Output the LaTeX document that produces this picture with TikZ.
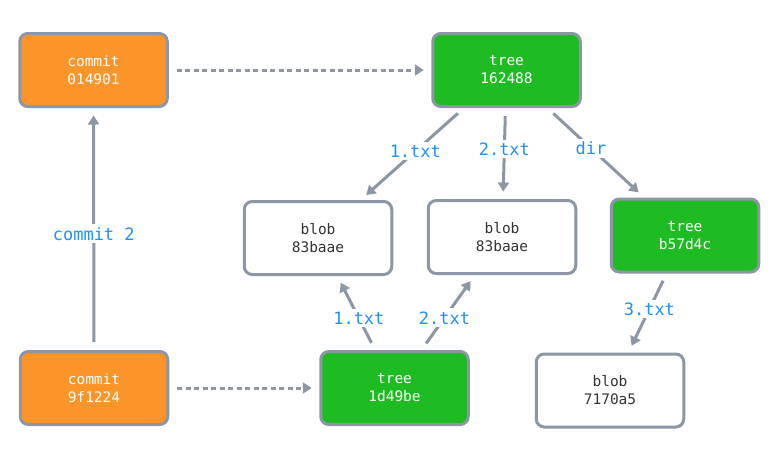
\documentclass[tikz,border=0pt]{standalone}
\usepackage{fontspec}
\setmonofont{DejaVu Sans Mono}
\usetikzlibrary{arrows.meta}
\definecolor{orangefill}{HTML}{FC9529}
\definecolor{greenfill}{HTML}{1EBB22}
\definecolor{edgegray}{HTML}{8C96A5}
\definecolor{labelblue}{HTML}{1E90FF}
\definecolor{darktext}{HTML}{333333}
\begin{document}
\begin{tikzpicture}[x=1pt,y=-1pt,
  box/.style={rounded corners=8pt, draw=edgegray, line width=3pt,
    minimum width=147.5pt, minimum height=73pt, align=center,
    font=\ttfamily\fontsize{14.5}{18}\selectfont},
  commitbox/.style={box, fill=orangefill, text=white},
  treebox/.style={box, fill=greenfill, text=white},
  blobbox/.style={box, fill=white, text=darktext},
  link/.style={draw=edgegray, line width=3pt, shorten >=7.5pt, shorten <=8pt,
    -{Triangle[length=9pt,width=11pt]}},
  ref/.style={link, dash pattern=on 5pt off 3.5pt},
  lbl/.style={pos=0.45, fill=white, text=labelblue, inner sep=3pt,
    font=\ttfamily\fontsize{17}{17}\selectfont}
]
\useasboundingbox (0,0) rectangle (780,464);
\node[commitbox] (c1) at (93.5,70) {commit\\014901};
\node[treebox] (t1) at (506.5,70) {tree\\162488};
\node[blobbox] (b1) at (318,238) {blob\\83baae};
\node[blobbox] (b2) at (502,237) {blob\\83baae};
\node[treebox] (t2) at (685,235.5) {tree\\b57d4c};
\node[commitbox] (c2) at (94,388) {commit\\9f1224};
\node[treebox] (t3) at (394.5,388) {tree\\1d49be};
\node[blobbox] (b3) at (610,390.5) {blob\\7170a5};

\draw[ref] (c1) -- (t1);
\draw[ref] (c2) -- (t3);
\draw[link] (c2) -- node[lbl, pos=0.48]{commit 2} (c1);
\draw[link] (t1) -- node[lbl, pos=0.47]{1.txt} (b1);
\draw[link] (t1) -- node[lbl]{2.txt} (b2);
\draw[link] (t1) -- node[lbl]{dir} (t2);
\draw[link] (t2) -- node[lbl]{3.txt} (b3);
\draw[link] (t3) -- node[lbl, pos=0.43]{1.txt} (b1);
\draw[link] (t3) -- node[lbl, pos=0.43]{2.txt} (b2);
\end{tikzpicture}
\end{document}
